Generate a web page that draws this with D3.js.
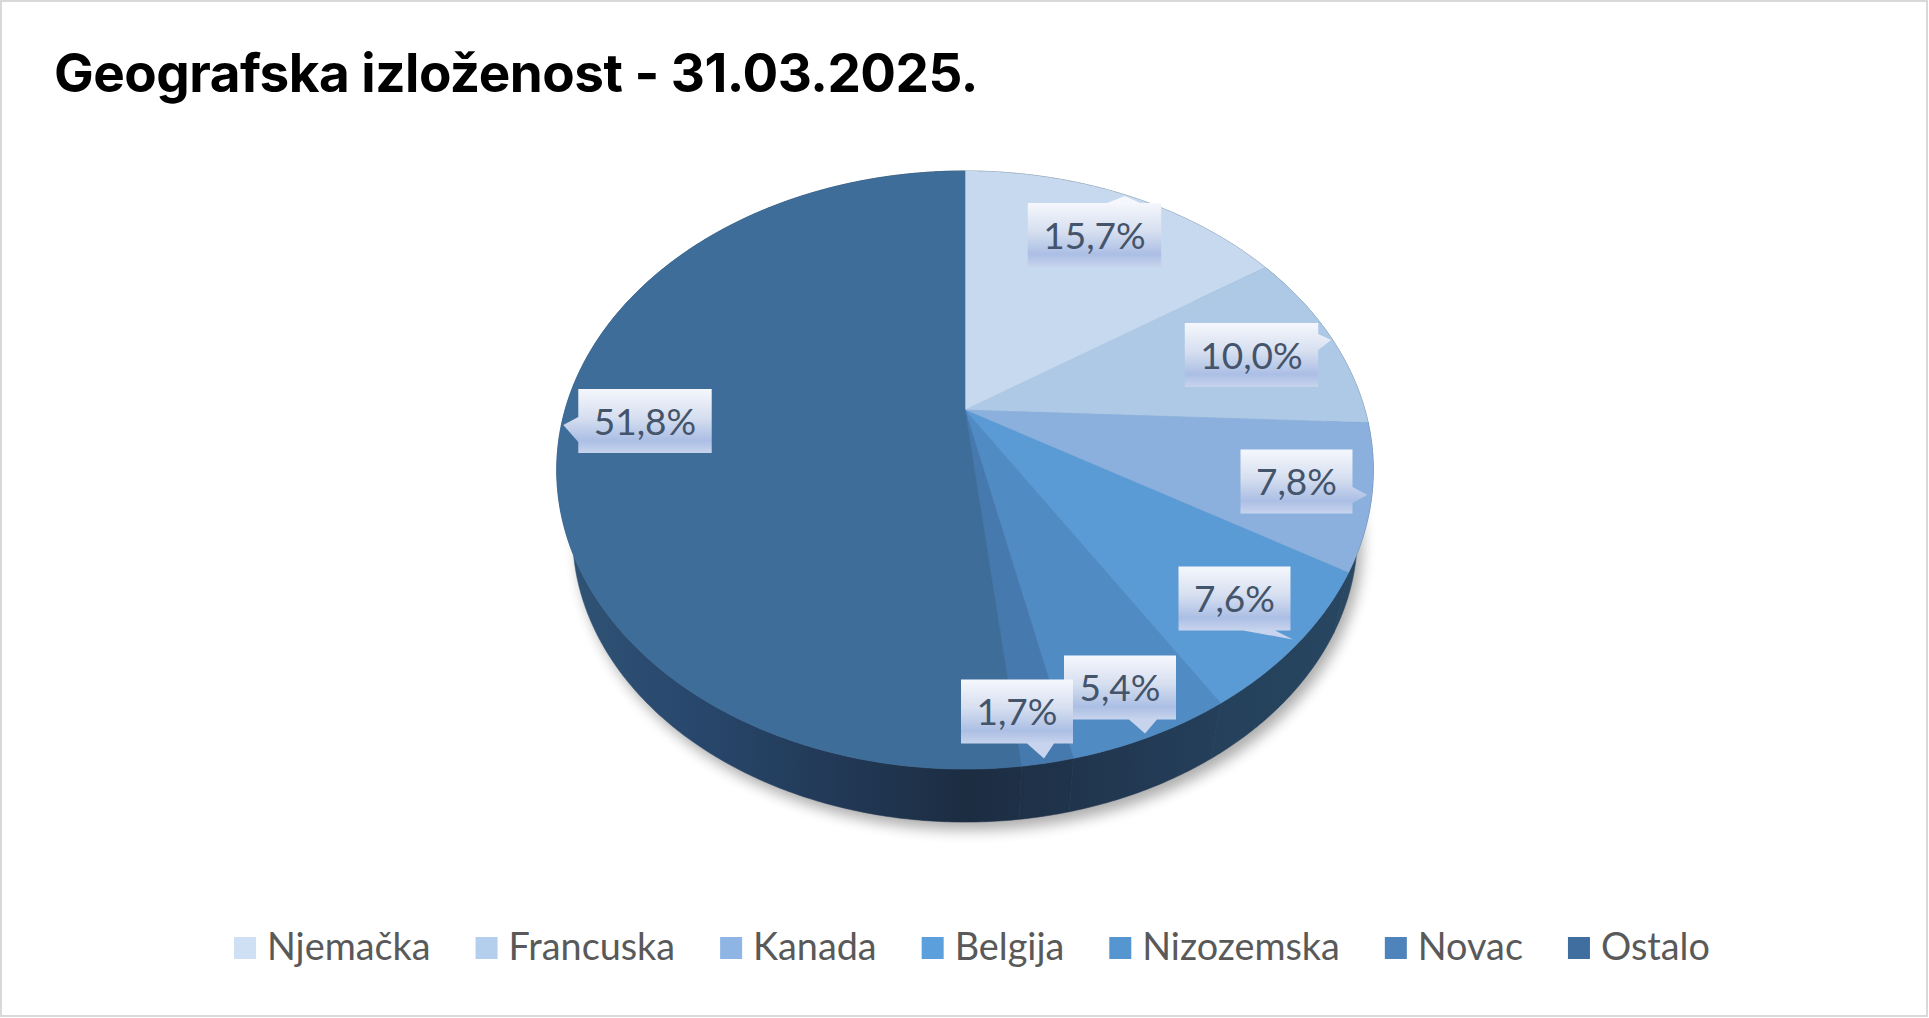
<!DOCTYPE html>
<html><head><meta charset="utf-8">
<script src="https://cdn.jsdelivr.net/npm/d3@7"></script>
<style>body{margin:0;background:#fff;} svg{display:block}</style>
</head><body>
<svg id="chart" width="1929" height="1018"></svg>
<script>
// ---- data ----
const title = "Geografska izloženost - 31.03.2025.";
const categories = ["Njemačka","Francuska","Kanada","Belgija","Nizozemska","Novac","Ostalo"];
const values = [15.7, 10.0, 7.8, 7.6, 5.4, 1.7, 51.8];
const valueLabels = ["15,7%","10,0%","7,8%","7,6%","5,4%","1,7%","51,8%"];

// ---- styles ----
const sliceColors  = ["#c6d9ee","#aec9e6","#8bb0dd","#5b9bd5","#518bc4","#4679ae","#3e6d99"];
const legendColors = ["#d0e0f4","#b4cfee","#8fb5e5","#5b9fdc","#5596d0","#4e84bb","#406e9e"];

// label callout layout (relative to pie centre / box)
const labelLayout = [
  {dx:129.5, dy:-175,  side:"top",    along:30.5, out:7,  b0:12.5, b1:45.5},
  {dx:286.5, dy:-55,   side:"right",  along:-15,  out:13, b0:-21,  b1:-5},
  {dx:331.5, dy:71.5,  side:"right",  along:13.5, out:15, b0:5.5,  b1:21.5},
  {dx:269.5, dy:188.5, side:"bottom", along:58.5, out:9,  b0:8.5,  b1:40.5},
  {dx:155,   dy:277.5, side:"bottom", along:25,   out:14, b0:9,    b1:37},
  {dx:52,    dy:301.5, side:"bottom", along:27,   out:15, b0:10,   b1:37},
  {dx:-320,  dy:11,    side:"left",   along:4,    out:15, b0:-4,   b1:21}
];

const W = 1929, H = 1018;
const svg = d3.select("#chart");
const defs = svg.append("defs");

// background + border
svg.append("rect").attr("x",1).attr("y",1).attr("width",W-3).attr("height",H-3)
  .attr("fill","#fff").attr("stroke","#d9d9d9").attr("stroke-width",2);

// title
svg.append("text").attr("x",54).attr("y",92).text(title)
  .attr("font-family","Inter, 'Noto Sans', sans-serif").attr("font-weight",700)
  .attr("font-size",53).attr("letter-spacing",-0.5).attr("fill","#000");

// ---- perspective pie geometry ----
// top face: circle seen in perspective; bottom rim: top rim shrunk toward a
// vertical vanishing point below the chart
const P = {cx:965, cy:410, S:400, C:287, k:0.2007, vy:2129, s:0.961};
function proj(theta, r){
  const x = r*Math.sin(theta), y = r*Math.cos(theta);
  const w = 1 + P.k*y;
  return [P.cx + P.S*x/w, P.cy - P.C*y/w];
}
function toBottom(p){
  return [P.cx + (p[0]-P.cx)*P.s, P.vy + (p[1]-P.vy)*P.s];
}
function arcPts(a, b, bottom){
  const n = Math.max(2, Math.ceil((b-a)/(Math.PI/360)));
  return d3.range(n+1).map(i => {
    const p = proj(a + (b-a)*i/n, 1);
    return bottom ? toBottom(p) : p;
  });
}
const line = d3.line();
const color = d3.scaleOrdinal(categories, sliceColors);
const arcs = d3.pie().sort(null).value(d => d)(values);

// shadow
const shF = defs.append("filter").attr("id","shadow").attr("x","-20%").attr("y","-20%").attr("width","140%").attr("height","140%");
shF.append("feGaussianBlur").attr("stdDeviation",7);
svg.append("path").attr("d", line(arcPts(0, 2*Math.PI, true)) + "Z")
  .attr("transform","translate(5,8)").attr("fill","#000").attr("opacity",0.32)
  .attr("filter","url(#shadow)");

// wall gradient
const wg = defs.append("linearGradient").attr("id","wallGrad").attr("gradientUnits","userSpaceOnUse")
  .attr("x1", P.cx - 410).attr("x2", P.cx + 410).attr("y1",0).attr("y2",0);
[[0,"#2f5374"],[0.17,"#27466a"],[0.36,"#1f3550"],[0.5,"#1a2a3d"],[0.62,"#1d2f45"],[0.78,"#213a52"],[1,"#27435c"]]
  .forEach(([o,c]) => wg.append("stop").attr("offset",o).attr("stop-color",c));

const walls = svg.append("g");
const wallOrder = arcs.slice().sort((a,b) => Math.cos((b.startAngle+b.endAngle)/2) - Math.cos((a.startAngle+a.endAngle)/2));
wallOrder.forEach(d => {
  const top = arcPts(d.startAngle, d.endAngle, false);
  const bot = arcPts(d.startAngle, d.endAngle, true).reverse();
  const dd = line(top.concat(bot)) + "Z";
  walls.append("path").attr("d", dd).attr("fill","url(#wallGrad)")
    .attr("stroke","url(#wallGrad)").attr("stroke-width",0.5);
  walls.append("path").attr("d", dd).attr("fill", color(categories[d.index])).attr("opacity",0.06);
});

// top faces
const tops = svg.append("g");
arcs.forEach(d => {
  const pts = [[P.cx, P.cy]].concat(arcPts(d.startAngle, d.endAngle, false));
  tops.append("path").attr("d", line(pts) + "Z")
    .attr("fill", color(categories[d.index]))
    .attr("stroke", color(categories[d.index])).attr("stroke-width",0.6);
});

// ---- labels ----
const lblFont = "Lato, 'Noto Sans', sans-serif";
const lblG = svg.append("g");
const boxH = 64;
arcs.forEach((d,i) => {
  const L = labelLayout[i];
  const cx = P.cx + L.dx, cy = P.cy + L.dy;
  const t = lblG.append("text").text(valueLabels[i])
    .attr("font-family", lblFont).attr("font-size",37).attr("fill","#44546a")
    .attr("text-anchor","middle");
  const tw = t.node().getComputedTextLength();
  const bw = tw + 31, hw = bw/2, hh = boxH/2;
  const x0 = cx-hw, x1 = cx+hw, y0 = cy-hh, y1 = cy+hh;
  let pts;
  if (L.side === "top") {
    pts = [[x0,y0],[cx+L.b0,y0],[cx+L.along,y0-L.out],[cx+L.b1,y0],[x1,y0],[x1,y1],[x0,y1]];
  } else if (L.side === "bottom") {
    pts = [[x0,y0],[x1,y0],[x1,y1],[cx+L.b1,y1],[cx+L.along,y1+L.out],[cx+L.b0,y1],[x0,y1]];
  } else if (L.side === "right") {
    pts = [[x0,y0],[x1,y0],[x1,cy+L.b0],[x1+L.out,cy+L.along],[x1,cy+L.b1],[x1,y1],[x0,y1]];
  } else {
    pts = [[x0,y0],[x1,y0],[x1,y1],[x0,y1],[x0,cy+L.b1],[x0-L.out,cy+L.along],[x0,cy+L.b0]];
  }
  const gid = "lg" + i;
  const g = defs.append("linearGradient").attr("id",gid).attr("gradientUnits","userSpaceOnUse")
    .attr("x1",0).attr("x2",0).attr("y1",y0).attr("y2",y1);
  [[0,"#f5f7fc"],[0.45,"#d6dff0"],[0.8,"#abbee4"],[1,"#c8d4ed"]]
    .forEach(([o,c]) => g.append("stop").attr("offset",o).attr("stop-color",c));
  lblG.insert("path", () => t.node()).attr("d", line(pts)+"Z").attr("fill",`url(#${gid})`);
  t.attr("x", cx).attr("y", cy + 13.5);
});

// ---- legend ----
const legFont = "Lato, 'Noto Sans', sans-serif";
const leg = svg.append("g");
const sw = 22, gapT = 11, gapI = 45, legY = 960;
let x = 0;
categories.forEach((c,i) => {
  const g = leg.append("g");
  g.append("rect").attr("x",0).attr("y",legY-sw-1).attr("width",sw).attr("height",sw).attr("fill",legendColors[i]);
  const t = g.append("text").attr("x",sw+gapT).attr("y",legY).text(c)
    .attr("font-family",legFont).attr("font-size",37.8).attr("fill","#595959");
  const w = sw + gapT + t.node().getComputedTextLength();
  g.attr("transform",`translate(${x},0)`);
  x += w + gapI;
});
const totalW = x - gapI;
leg.attr("transform",`translate(${972 - totalW/2},0)`);
</script>
</body></html>
